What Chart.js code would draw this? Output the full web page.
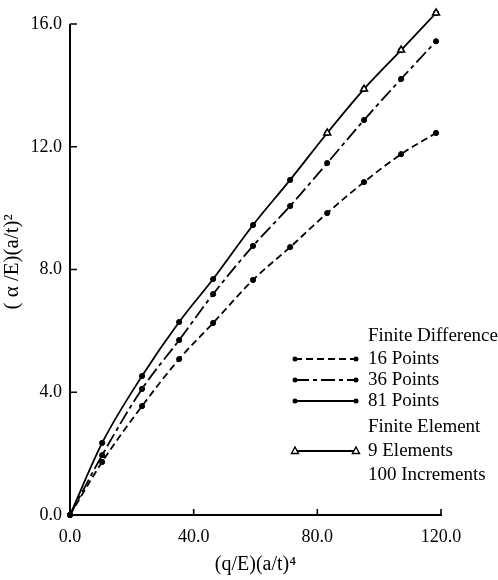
<!DOCTYPE html>
<html>
<head>
<meta charset="utf-8">
<script src="https://cdn.jsdelivr.net/npm/chart.js@4.4.1/dist/chart.umd.min.js"></script>
<style>
html,body{margin:0;padding:0;background:#fff;}
#wrap{width:498px;height:580px;position:relative;}
</style>
</head>
<body>
<div id="wrap"><canvas id="c" width="498" height="580"></canvas></div>
<script>
// ---- data ----
const loadX = [0, 10.4, 23.3, 35.3, 46.3, 59.2, 71.2, 83.2, 95.1, 107.1, 118.4];
const fd16 = [0, 1.73, 3.55, 5.08, 6.26, 7.66, 8.73, 9.84, 10.85, 11.76, 12.45];
const fd36 = [0, 1.95, 4.11, 5.70, 7.20, 8.77, 10.07, 11.47, 12.87, 14.21, 15.44];
const fd81 = [0, 2.35, 4.53, 6.29, 7.69, 9.45, 10.92, 12.45, 13.88, 15.15, 16.36];
const feX = [83.2, 95.1, 107.1, 118.4];
const fe9 = [12.45, 13.88, 15.15, 16.36];
const xTicks = [0, 40, 80, 120];
const yTicks = [0, 4, 8, 12, 16];
const legendRows = [
  {text: 'Finite Difference'},
  {text: '16 Points', series: 0},
  {text: '36 Points', series: 1},
  {text: '81 Points', series: 2},
  {text: 'Finite Element'},
  {text: '9 Elements', series: 3},
  {text: '100 Increments'}
];

const pts = (xs, ys) => xs.map((x, i) => ({x: x, y: ys[i]}));
const FONT = 'Liberation Serif';

const lineStyle = [
  {dash: [7, 4], marker: 'circle'},
  {dash: [14, 4, 4, 4], marker: 'circle'},
  {dash: [], marker: 'circle'},
  {dash: [], marker: 'triangle'}
];

const tickPlugin = {
  id: 'inTicks',
  afterDatasetsDraw(chart) {
    const ctx = chart.ctx, a = chart.chartArea;
    const xs = chart.scales.x, ys = chart.scales.y;
    ctx.save();
    ctx.strokeStyle = '#000';
    // y axis line from 0 to 16
    ctx.lineWidth = 2;
    ctx.beginPath();
    ctx.moveTo(a.left, ys.getPixelForValue(yTicks[0]) + 1);
    ctx.lineTo(a.left, ys.getPixelForValue(yTicks[yTicks.length - 1]));
    ctx.stroke();
    ctx.lineWidth = 1.6;
    ctx.beginPath();
    xTicks.forEach(v => {
      if (v === 0) return;
      const px = xs.getPixelForValue(v);
      ctx.moveTo(px, a.bottom); ctx.lineTo(px, a.bottom - 6);
    });
    yTicks.forEach(v => {
      if (v === 0) return;
      const py = ys.getPixelForValue(v);
      ctx.moveTo(a.left, py); ctx.lineTo(a.left + 7, py);
    });
    ctx.stroke();
    ctx.restore();
  },
  afterDraw(chart) {
    const ctx = chart.ctx;
    const textX = 368, lineX0 = 295, lineX1 = 356;
    const rowY = [336, 359, 380, 401, 427, 451, 475];
    ctx.save();
    ctx.fillStyle = '#000';
    ctx.font = '19px "' + FONT + '"';
    ctx.textBaseline = 'middle';
    ctx.textAlign = 'left';
    legendRows.forEach((r, i) => {
      const y = rowY[i];
      ctx.fillText(r.text, textX, y);
      if (r.series !== undefined) {
        const st = lineStyle[r.series];
        ctx.strokeStyle = '#000';
        ctx.lineWidth = 1.8;
        ctx.setLineDash(st.dash);
        ctx.beginPath(); ctx.moveTo(lineX0, y); ctx.lineTo(lineX1, y); ctx.stroke();
        ctx.setLineDash([]);
        [lineX0, lineX1].forEach(mx => {
          if (st.marker === 'triangle') {
            ctx.fillStyle = '#fff';
            ctx.lineWidth = 1.4;
            ctx.beginPath();
            ctx.moveTo(mx, y - 4); ctx.lineTo(mx + 3.5, y + 2.5); ctx.lineTo(mx - 3.5, y + 2.5); ctx.closePath();
            ctx.fill(); ctx.stroke();
            ctx.fillStyle = '#000';
          } else {
            ctx.beginPath(); ctx.arc(mx, y, 2.5, 0, Math.PI * 2); ctx.fill();
          }
        });
      }
    });
    ctx.restore();
  }
};

const ds = (label, data, i, extra) => Object.assign({
  label: label,
  data: data,
  borderColor: '#000',
  backgroundColor: '#000',
  borderWidth: 1.8,
  borderDash: lineStyle[i].dash,
  pointStyle: lineStyle[i].marker,
  pointRadius: 2.6,
  pointBorderWidth: 1,
  pointBackgroundColor: '#000',
  pointBorderColor: '#000',
  cubicInterpolationMode: 'monotone',
  clip: false,
  fill: false
}, extra || {});

new Chart(document.getElementById('c'), {
  type: 'line',
  data: {
    datasets: [
      ds('16 Points', pts(loadX, fd16), 0),
      ds('36 Points', pts(loadX, fd36), 1),
      ds('81 Points', pts(loadX, fd81), 2),
      ds('9 Elements', pts(feX, fe9), 3, {showLine: false, order: -1, pointRadius: 4, backgroundColor: '#fff', pointBackgroundColor: '#fff', pointBorderWidth: 1.5})
    ]
  },
  options: {
    responsive: false,
    animation: false,
    devicePixelRatio: 1,
    layout: {padding: {left: 0, top: 8.7, right: 57, bottom: 0}},
    plugins: {legend: {display: false}, tooltip: {enabled: false}},
    scales: {
      x: {
        type: 'linear', min: 0, max: 120,
        afterFit: s => { s.height = 65; s.paddingLeft = 0; s.paddingRight = 0; },
        afterBuildTicks: s => { s.ticks = xTicks.map(v => ({value: v})); },
        grid: {display: true, drawOnChartArea: false, drawTicks: false},
        border: {display: true, color: '#000', width: 2},
        ticks: {color: '#000', padding: 11, maxRotation: 0, font: {family: FONT, size: 18}, callback: v => v.toFixed(1)},
        title: {display: true, text: '(q/E)(a/t)⁴', color: '#000', font: {family: FONT, size: 20}, padding: {top: 0, bottom: 3}}
      },
      y: {
        type: 'linear', min: 0, max: 16.5,
        afterFit: s => { s.width = 70; s.paddingTop = 0; s.paddingBottom = 0; },
        afterBuildTicks: s => { s.ticks = yTicks.map(v => ({value: v})); },
        grid: {display: true, drawOnChartArea: false, drawTicks: false},
        border: {display: false},
        ticks: {color: '#000', padding: 8, font: {family: FONT, size: 18}, callback: v => v.toFixed(1)},
        title: {display: true, text: '( α /E)(a/t)²', color: '#000', font: {family: FONT, size: 21}, padding: {top: 0, bottom: 0}}
      }
    }
  },
  plugins: [tickPlugin]
});
</script>
</body>
</html>
